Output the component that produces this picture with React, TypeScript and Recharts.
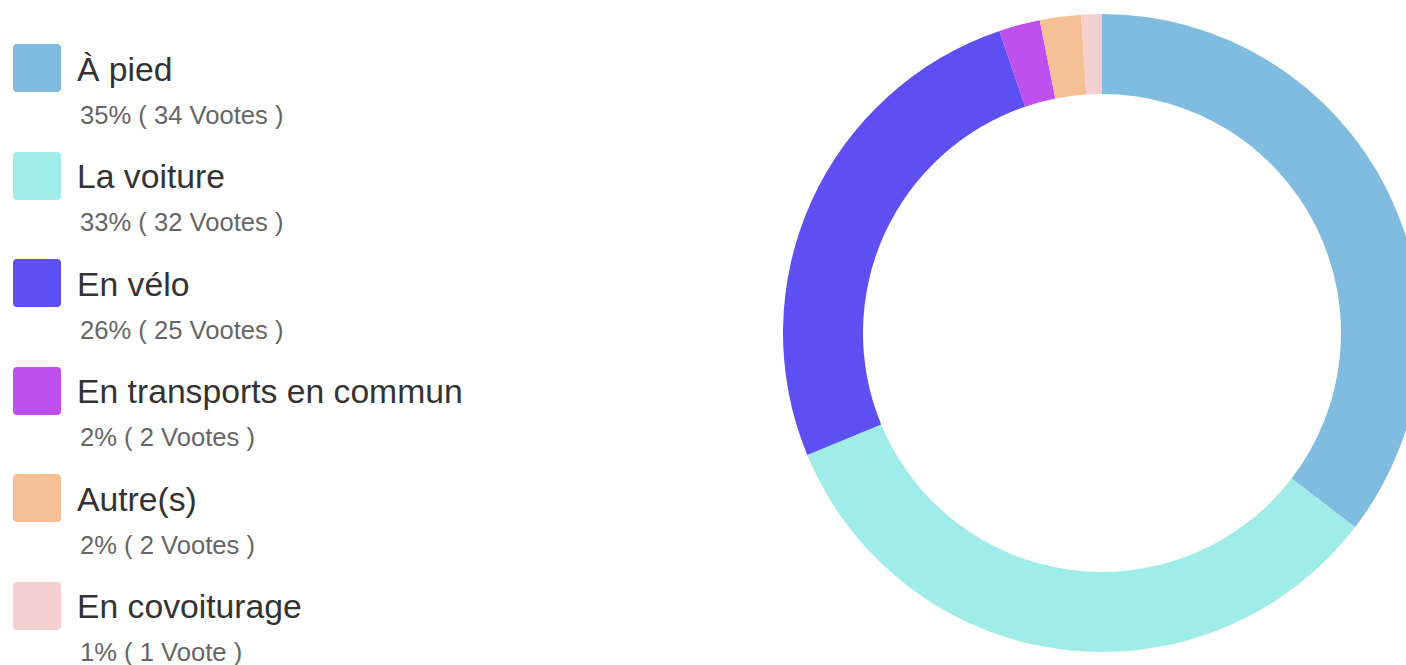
import { PieChart, Pie, Cell } from 'recharts';

const categories = ['À pied', 'La voiture', 'En vélo', 'En transports en commun', 'Autre(s)', 'En covoiturage'];
const votes = [34, 32, 25, 2, 2, 1];
const percents = [35, 33, 26, 2, 2, 1];
const colors = ['#7fbce0', '#a0ece8', '#5e4ff2', '#bf50f0', '#f6c096', '#f6d0d0'];

const data = categories.map((name, i) => ({ name, value: votes[i] }));

export default function App() {
    return (
        <div style={{
            position: 'absolute',
            left: 0,
            top: 0,
            width: 1406,
            height: 665,
            overflow: 'hidden',
            background: '#fff',
            fontFamily: '"Liberation Sans", Arial, sans-serif'
        }}>
            {/* Legend */}
            {categories.map((name, i) => {
                const rowTop = i * 107.5;
                return (
                    <div key={name}>
                        <div style={{
                            position: 'absolute',
                            left: 13,
                            top: 44 + rowTop,
                            width: 48,
                            height: 48,
                            borderRadius: 4,
                            backgroundColor: colors[i]
                        }} />
                        <div style={{
                            position: 'absolute',
                            left: 77,
                            top: 52.5 + rowTop,
                            fontSize: 33.7,
                            lineHeight: '33.7px',
                            color: '#333',
                            whiteSpace: 'nowrap'
                        }}>{name}</div>
                        <div style={{
                            position: 'absolute',
                            left: 80,
                            top: 102.5 + rowTop,
                            fontSize: 25.6,
                            lineHeight: '25.6px',
                            color: '#666',
                            whiteSpace: 'nowrap'
                        }}>{`${percents[i]}% ( ${votes[i]} ${votes[i] > 1 ? 'Vootes' : 'Voote'} )`}</div>
                    </div>
                );
            })}

            {/* Donut */}
            <div style={{ position: 'absolute', left: 0, top: 0 }}>
                <PieChart width={1406} height={665} margin={{ top: 0, right: 0, bottom: 0, left: 0 }}>
                    <Pie
                        data={data}
                        dataKey="value"
                        cx={1102}
                        cy={333}
                        innerRadius={239}
                        outerRadius={319}
                        startAngle={90}
                        endAngle={-270}
                        stroke="none"
                        isAnimationActive={false}
                    >
                        {data.map((entry, index) => (
                            <Cell key={`cell-${index}`} fill={colors[index]} />
                        ))}
                    </Pie>
                </PieChart>
            </div>
        </div>
    );
}
